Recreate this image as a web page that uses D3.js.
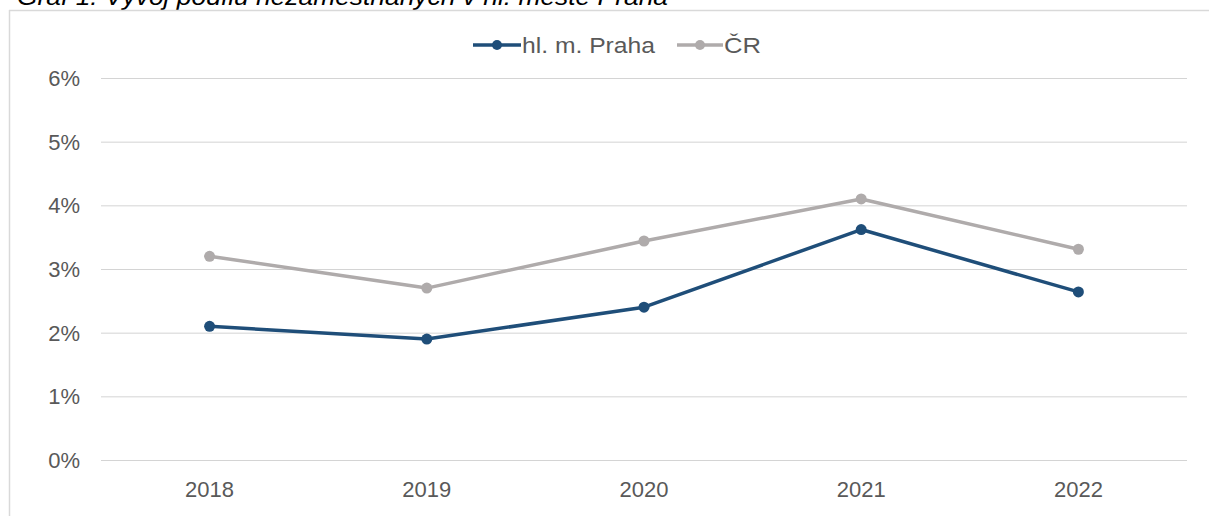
<!DOCTYPE html>
<html>
<head>
<meta charset="utf-8">
<script src="https://cdn.jsdelivr.net/npm/d3@7"></script>
<style>
  html, body { margin: 0; padding: 0; background: #fff; }
  svg { display: block; font-family: "Liberation Sans", Arial, sans-serif; }
</style>
</head>
<body>
<div id="chart"></div>
<script>
// data
var years = ["2018", "2019", "2020", "2021", "2022"];
var praha = [2.10, 1.90, 2.40, 3.62, 2.64];
var cr = [3.20, 2.70, 3.44, 4.10, 3.31];
var yTicks = [0, 1, 2, 3, 4, 5, 6];
var seriesNames = ["hl. m. Praha", "ČR"];
var seriesColors = ["#1f4e79", "#afabab"];

var width = 1209, height = 516;

var svg = d3.select("#chart").append("svg")
    .attr("width", width)
    .attr("height", height);

// title (clipped at top like in the source)
svg.append("text")
    .attr("x", 17)
    .attr("y", 5)
    .attr("font-size", 24)
    .attr("font-style", "italic")
    .attr("fill", "#000")
    .attr("textLength", 651)
    .attr("lengthAdjust", "spacingAndGlyphs")
    .text("Graf 1: Vývoj podílu nezaměstnaných v hl. městě Praha");

// chart frame
svg.append("line").attr("x1", 9).attr("x2", width).attr("y1", 10.5).attr("y2", 10.5)
    .attr("stroke", "#d9d9d9").attr("stroke-width", 1.5);
svg.append("line").attr("x1", 9.5).attr("x2", 9.5).attr("y1", 10).attr("y2", height)
    .attr("stroke", "#d9d9d9").attr("stroke-width", 1.5);

var x = d3.scalePoint().domain(years).range([101, 1187]).padding(0.5);
var y = d3.scaleLinear().domain([0, 6]).range([460, 78]);

// gridlines + y labels
var grid = svg.append("g");
grid.selectAll("line").data(yTicks).enter().append("line")
    .attr("x1", 101).attr("x2", 1187)
    .attr("y1", function(d) { return y(d) + 0.5; })
    .attr("y2", function(d) { return y(d) + 0.5; })
    .attr("stroke", "#d4d4d4")
    .attr("stroke-width", 1);

grid.selectAll("text").data(yTicks).enter().append("text")
    .attr("x", 80)
    .attr("y", function(d) { return y(d); })
    .attr("dy", "0.36em")
    .attr("text-anchor", "end")
    .attr("font-size", 22)
    .attr("fill", "#595959")
    .text(function(d) { return d + "%"; });

// x labels
svg.append("g").selectAll("text").data(years).enter().append("text")
    .attr("x", function(d) { return x(d); })
    .attr("y", 497)
    .attr("text-anchor", "middle")
    .attr("font-size", 22)
    .attr("fill", "#595959")
    .text(function(d) { return d; });

var line = d3.line()
    .x(function(d, i) { return x(years[i]); })
    .y(function(d) { return y(d); });

// ČR drawn first, Praha on top
[cr, praha].forEach(function(vals, k) {
    var color = k === 0 ? seriesColors[1] : seriesColors[0];
    svg.append("path")
        .datum(vals)
        .attr("d", line)
        .attr("fill", "none")
        .attr("stroke", color)
        .attr("stroke-width", 3.5)
        .attr("stroke-linejoin", "round");
    svg.append("g").selectAll("circle").data(vals).enter().append("circle")
        .attr("cx", function(d, i) { return x(years[i]); })
        .attr("cy", function(d) { return y(d); })
        .attr("r", 5.5)
        .attr("fill", color);
});

// legend
var legendItems = [
    { name: seriesNames[0], color: seriesColors[0], x0: 473, x1: 521, len: 133 },
    { name: seriesNames[1], color: seriesColors[1], x0: 677, x1: 723, len: 37 }
];
var legend = svg.append("g");
legendItems.forEach(function(it) {
    legend.append("line")
        .attr("x1", it.x0).attr("x2", it.x1)
        .attr("y1", 45).attr("y2", 45)
        .attr("stroke", it.color).attr("stroke-width", 3.5);
    legend.append("circle")
        .attr("cx", (it.x0 + it.x1) / 2).attr("cy", 45).attr("r", 5)
        .attr("fill", it.color);
    legend.append("text")
        .attr("x", it.x1 + 1).attr("y", 45)
        .attr("dy", "0.36em")
        .attr("font-size", 22)
        .attr("fill", "#595959")
        .attr("textLength", it.len)
        .attr("lengthAdjust", "spacingAndGlyphs")
        .text(it.name);
});
</script>
</body>
</html>
